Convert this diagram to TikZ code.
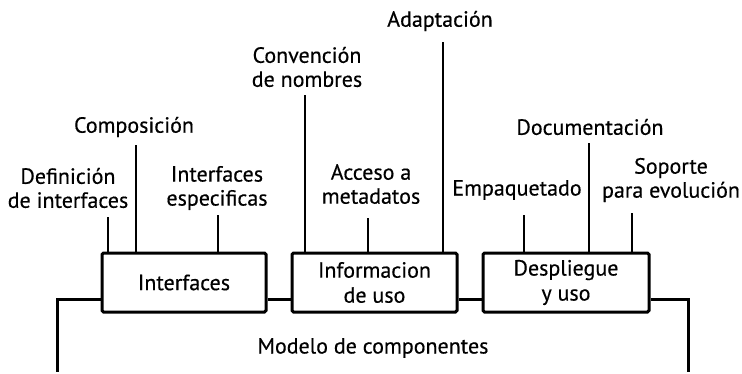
\documentclass[tikz,border=0pt]{standalone}
\usepackage{fontspec}
\setmainfont{PT Sans}[UprightFeatures={FakeBold=0.4}]
\usepackage{tikz}
\usetikzlibrary{positioning}

\begin{document}
\begin{tikzpicture}[x=1pt, y=-1pt,
  caja/.style={draw, line width=3pt, rounded corners=1.5pt,
               minimum height=59pt, align=center, inner sep=2pt,
               font=\fontsize{22}{25}\selectfont},
  rotulo/.style={align=center, inner sep=0pt,
                 font=\fontsize{22}{24}\selectfont},
  marco/.style={line width=3pt},
  guia/.style={line width=1.4pt},
]
\useasboundingbox (0,0) rectangle (742,373);

% bloques del modelo
\node[caja, minimum width=164pt] (intf) at (184,282.5) {Interfaces};
\node[caja, minimum width=165pt] (info) at (374.5,282.5) {Informacion\\de uso};
\node[caja, minimum width=166pt] (desp) at (566,282.5) {Despliegue\\y uso};

% rotulos
\node[rotulo] (def)  at (68,188)  {Definición\\de interfaces};
\node[rotulo] (comp) at (134,127) {Composición};
\node[rotulo] (espec) at (217,188) {Interfaces\\especificas};
\node[rotulo] (conv) at (307,67)  {Convención\\de nombres};
\node[rotulo] (acc)  at (371,184) {Acceso a\\metadatos};
\node[rotulo] (adap) at (440,21)  {Adaptación};
\node[rotulo] (empq) at (517,190) {Empaquetado};
\node[rotulo] (docu) at (590,127) {Documentación};
\node[rotulo] (sopo) at (671,180) {Soporte\\para evolución};
\node[rotulo] (mod)  at (373,348) {Modelo de componentes};

% extremos de las guias
\coordinate (gdef)  at (108,217);
\coordinate (gcomp) at (136,145);
\coordinate (gesp)  at (218,215);
\coordinate (gconv) at (305,95);
\coordinate (gacc)  at (368,218);
\coordinate (gadap) at (443,42);
\coordinate (gemp)  at (524,215);
\coordinate (gdoc)  at (589,143);
\coordinate (gsop)  at (632,213);
\foreach \g/\c in {gdef/intf, gcomp/intf, gesp/intf,
                   gconv/info, gacc/info, gadap/info,
                   gemp/desp, gdoc/desp, gsop/desp}
  \draw[guia] (\g) -- (\g |- \c.north);

% marco inferior
\coordinate (eje) at (0,299);
\coordinate (izq) at (57,372);
\coordinate (der) at (688,372);
\draw[marco] (intf.west |- eje) -| (izq);
\draw[marco] (intf.east |- eje) -- (info.west |- eje);
\draw[marco] (info.east |- eje) -- (desp.west |- eje);
\draw[marco] (desp.east |- eje) -| (der);
\end{tikzpicture}
\end{document}
